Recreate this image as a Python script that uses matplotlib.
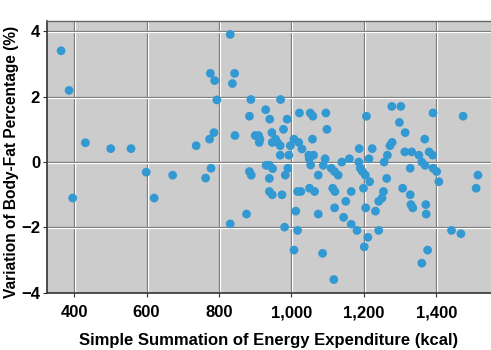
import matplotlib
matplotlib.use("Agg")
import matplotlib.pyplot as plt
import matplotlib.transforms as mtransforms
from matplotlib.ticker import FuncFormatter

# energy expenditure (kcal) vs change in body-fat percentage (%)
energy_kcal = [
    364, 386, 396, 431, 501, 557, 599, 621, 672, 737,
    763, 774, 776, 778, 786, 788, 794, 831, 831, 837,
    843, 844, 876, 884, 884, 888, 889, 900, 909, 913,
    911, 929, 930, 939, 948, 939, 939, 947, 940, 946,
    947, 956, 961, 969, 969, 970, 974, 978, 981, 983,
    988, 990, 993, 997, 1007, 1007, 1012, 1017, 1017, 1020,
    1022, 1026, 1029, 1048, 1050, 1052, 1053, 1049, 1059, 1058,
    1061, 1064, 1074, 1074, 1086, 1088, 1093, 1095, 1098, 1110,
    1114, 1117, 1119, 1119, 1120, 1129, 1139, 1144, 1150, 1160,
    1165, 1165, 1181, 1186, 1187, 1190, 1196, 1199, 1201, 1204,
    1205, 1207, 1211, 1214, 1216, 1223, 1232, 1241, 1241, 1250,
    1254, 1256, 1263, 1265, 1272, 1278, 1277, 1298, 1302, 1307,
    1313, 1314, 1328, 1328, 1330, 1332, 1335, 1352, 1360, 1360,
    1368, 1369, 1371, 1372, 1376, 1380, 1390, 1391, 1391, 1401,
    1407, 1442, 1468, 1474, 1510, 1515,
]
fat_change = [
    3.40, 2.19, -1.10, 0.59, 0.41, 0.41, -0.31, -1.10, -0.40, 0.50,
    -0.49, 0.70, 2.71, -0.19, 0.90, 2.49, 1.90, 3.90, -1.89, 2.40,
    2.71, 0.81, -1.59, 1.40, -0.29, 1.91, -0.40, 0.81, 0.81, 0.70,
    0.60, 1.60, -0.10, -0.10, -0.20, -0.50, -0.90, -1.00, 1.31, 0.90,
    0.60, 0.70, 0.60, 0.50, 0.21, 1.91, -1.00, 1.00, -1.99, -0.40,
    1.31, -0.19, 0.21, 0.50, 0.70, -2.69, -1.50, -2.09, -0.90, 0.60,
    1.50, -0.90, 0.40, 0.21, -0.80, 1.50, -0.09, 0.10, 1.40, 0.70,
    0.21, -0.90, -0.40, -1.59, -2.79, -0.10, 0.10, 1.50, 1.00, -0.19,
    -0.80, -3.59, -0.29, -1.40, -0.90, -0.40, 0.00, -1.69, -1.20, 0.10,
    -0.90, -1.90, -2.09, 0.00, 0.41, -0.19, -0.29, -0.80, -2.59, -0.40,
    -1.40, 1.40, -2.30, 0.10, -0.60, 0.41, -1.50, -1.20, -2.09, -1.10,
    -0.90, 0.00, -0.50, 0.21, 0.50, 0.60, 1.70, 1.21, 1.70, -0.80,
    0.31, 0.90, -0.19, -1.00, -1.30, 0.31, -1.40, 0.21, 0.00, -3.09,
    0.70, -0.10, -1.30, -1.59, -2.69, 0.31, 0.21, 1.50, -0.19, -0.29,
    -0.60, -2.09, -2.19, 1.40, -0.80, -0.40,
]

x_ticks = [400, 600, 800, 1000, 1200, 1400]
y_ticks = [-4, -2, 0, 2, 4]

plt.rcParams["font.family"] = ["Liberation Sans", "DejaVu Sans"]

fig = plt.figure(figsize=(4.91, 3.5), dpi=100)
ax = fig.add_axes([0.0957, 0.163, 0.9043, 0.777])
ax.set_facecolor("#cccccc")

ax.set_xlim(325, 1551)
ax.set_ylim(-4, 4.31)

# embossed grid: dark line with a white line one pixel right / below
px = 1 / fig.dpi
shift_x = ax.get_xaxis_transform() + mtransforms.ScaledTranslation(px, 0, fig.dpi_scale_trans)
shift_y = ax.get_yaxis_transform() + mtransforms.ScaledTranslation(0, -px, fig.dpi_scale_trans)
for xv in x_ticks:
    ax.axvline(xv, color="#6e6e6e", lw=0.9, zorder=1)
    ax.plot([xv, xv], [0, 1], color="white", lw=0.9, transform=shift_x, zorder=1)
for yv in y_ticks:
    ax.axhline(yv, color="#6e6e6e", lw=0.9, zorder=1)
    ax.plot([0, 1], [yv, yv], color="white", lw=0.9, transform=shift_y, zorder=1)

ax.scatter(energy_kcal, fat_change, s=40, color="#3399d3", edgecolors="none", zorder=3)

ax.set_xticks(x_ticks)
ax.set_yticks(y_ticks)
ax.xaxis.set_major_formatter(FuncFormatter(lambda v, _: f"{int(v):,}"))
ax.tick_params(axis="both", direction="out", length=3, width=0.8, color="#333333",
               labelsize=12)
ax.tick_params(axis="x", pad=6)
ax.tick_params(axis="y", pad=2)
for lab in ax.get_xticklabels() + ax.get_yticklabels():
    lab.set_fontweight("bold")

for side in ("left", "bottom"):
    ax.spines[side].set_color("#333333")
    ax.spines[side].set_linewidth(1.2)
ax.spines["top"].set_color("#666666")
ax.spines["top"].set_linewidth(1.0)
ax.spines["right"].set_visible(False)

ax.set_xlabel("Simple Summation of Energy Expenditure (kcal)", fontsize=12,
              fontweight="bold", labelpad=9)
ax.set_ylabel("Variation of Body-Fat Percentage (%)", fontsize=11.2,
              fontweight="bold")
ax.yaxis.set_label_coords(-0.062, 0.48)

fig.savefig("out.png", dpi=100)
